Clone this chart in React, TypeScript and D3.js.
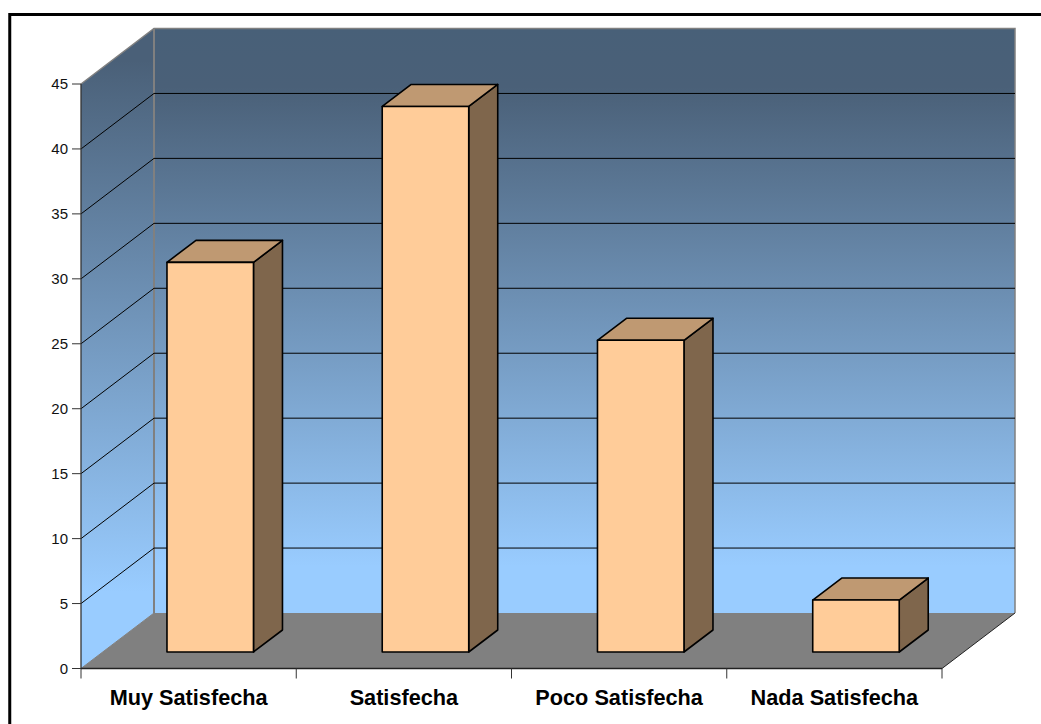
import React from "react";
import * as d3 from "d3";

const categories = ["Muy Satisfecha", "Satisfecha", "Poco Satisfecha", "Nada Satisfecha"];
const values = [30, 42, 24, 4];
const yTicks = [0, 5, 10, 15, 20, 25, 30, 35, 40, 45];

const W = 1041;
const H = 724;

// Oblique projection: front plane of the plot and the shift to the back wall
const x = d3.scaleBand<string>().domain(categories).range([81, 942]);
const y = d3.scaleLinear().domain([0, 45]).range([668.5, 84]);
const depth = { dx: 73, dy: -55.5 };
// Bars sit partway into the floor and have a shorter depth than the floor
const barShift = { dx: 22, dy: -16.5 };
const barDepth = { dx: 29, dy: -22 };
const barWidth = 86.5;

const poly = (pts: [number, number][]) => pts.map((p) => p.join(",")).join(" ");

export default function App() {
  const x0 = x.range()[0];
  const x1 = x.range()[1];
  const y0 = y(0);
  const yTop = y(45);
  const bx0 = x0 + depth.dx;
  const bx1 = x1 + depth.dx;

  return (
    <svg
      width={W}
      height={H}
      viewBox={`0 0 ${W} ${H}`}
      style={{ position: "absolute", left: 0, top: 0, display: "block" }}
      fontFamily="'Liberation Sans', Arial, sans-serif"
    >
      <defs>
        <linearGradient id="wallBack" gradientUnits="userSpaceOnUse" x1={0} x2={0} y1={yTop + depth.dy} y2={y0 + depth.dy}>
          <stop offset="0" stopColor="#486078" />
          <stop offset="0.1" stopColor="#4a6078" />
          <stop offset="0.92" stopColor="#99ccff" />
          <stop offset="1" stopColor="#99ccff" />
        </linearGradient>
        <linearGradient id="wallSide" gradientUnits="userSpaceOnUse" x1={0} x2={0} y1={yTop + depth.dy} y2={y0}>
          <stop offset="0.05" stopColor="#4a6078" />
          <stop offset="0.88" stopColor="#99ccff" />
          <stop offset="1" stopColor="#99ccff" />
        </linearGradient>
      </defs>

      <rect x={0} y={0} width={W} height={H} fill="#ffffff" />
      {/* Page border: only its top and left edges fall inside the frame */}
      <path d={`M${W + 2},14.5H9.75V${H + 2}`} fill="none" stroke="#000000" strokeWidth={3} />

      {/* Side wall, back wall and floor */}
      <polygon
        points={poly([[x0, yTop], [bx0, yTop + depth.dy], [bx0, y0 + depth.dy], [x0, y0]])}
        fill="url(#wallSide)"
      />
      <rect x={bx0} y={yTop + depth.dy} width={bx1 - bx0} height={y0 - yTop} fill="url(#wallBack)" />
      <polygon
        points={poly([[x0, y0], [x1, y0], [bx1, y0 + depth.dy], [bx0, y0 + depth.dy]])}
        fill="#808080"
      />

      {/* Wall outlines */}
      <path
        d={`M${x0},${yTop}L${bx0},${yTop + depth.dy}H${bx1}V${y0 + depth.dy}`}
        fill="none"
        stroke="#808080"
        strokeWidth={1.5}
      />
      <line x1={bx0} x2={bx0} y1={yTop + depth.dy} y2={y0 + depth.dy} stroke="#808080" strokeWidth={2} />
      <line x1={x0} x2={bx0} y1={y0} y2={y0 + depth.dy} stroke="#808080" strokeWidth={1} />
      <line x1={x1} x2={bx1} y1={y0} y2={y0 + depth.dy} stroke="#222222" strokeWidth={1} />

      {/* Gridlines wrap from the side wall onto the back wall */}
      {yTicks.filter((t) => t > 0 && t < 45).map((t) => (
        <path
          key={t}
          d={`M${x0},${y(t)}L${bx0},${y(t) + depth.dy}H${bx1}`}
          fill="none"
          stroke="#000000"
          strokeWidth={1}
        />
      ))}

      {/* Axes */}
      <line x1={x0} x2={x0} y1={yTop} y2={y0} stroke="#333333" strokeWidth={1.3} />
      <line x1={x0} x2={x1} y1={y0} y2={y0} stroke="#222222" strokeWidth={1.3} />
      {yTicks.map((t) => (
        <g key={t}>
          <line x1={x0 - 9} x2={x0} y1={y(t)} y2={y(t)} stroke="#333333" strokeWidth={1} />
          <text x={x0 - 13} y={y(t) + 5} textAnchor="end" fontSize={15} fill="#111111">
            {t}
          </text>
        </g>
      ))}
      {[...categories.map((c) => x(c) as number), x1].map((v, i) => (
        <line key={i} x1={v} x2={v} y1={y0} y2={y0 + 10} stroke="#333333" strokeWidth={1} />
      ))}
      {categories.map((c) => (
        <text
          key={c}
          x={(x(c) as number) + x.bandwidth() / 2}
          y={705}
          textAnchor="middle"
          fontSize={21.7}
          fontWeight="bold"
          fill="#000000"
        >
          {c}
        </text>
      ))}

      {/* 3D bars: side face, top face, front face */}
      {categories.map((c, i) => {
        const cx = (x(c) as number) + x.bandwidth() / 2 + barShift.dx - 0.4;
        const l = cx - barWidth / 2;
        const r = cx + barWidth / 2;
        const b = y0 + barShift.dy;
        const t = y(values[i]) + barShift.dy;
        const { dx, dy } = barDepth;
        return (
          <g key={c} stroke="#000000" strokeWidth={1.6} strokeLinejoin="round">
            <polygon points={poly([[r, t], [r + dx, t + dy], [r + dx, b + dy], [r, b]])} fill="#7f664c" />
            <polygon points={poly([[l, t], [l + dx, t + dy], [r + dx, t + dy], [r, t]])} fill="#bf9972" />
            <rect x={l} y={t} width={barWidth} height={b - t} fill="#ffcc99" />
          </g>
        );
      })}
    </svg>
  );
}
